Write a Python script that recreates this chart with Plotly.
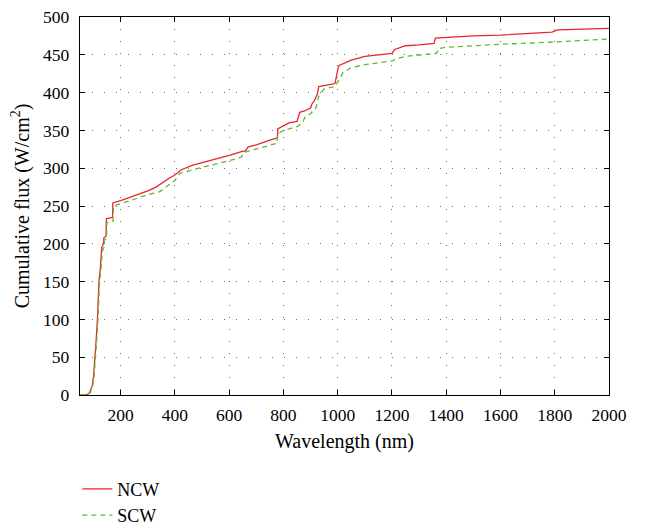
import plotly.graph_objects as go

# NCW cumulative flux (wavelength nm, W/cm^2)
ncw_wl = [50, 75, 85, 95, 100, 105, 110, 115, 120, 125, 130, 136, 138, 146, 147, 170, 171,
          200, 250, 300, 330, 350, 380, 400, 424, 466, 520, 600, 645, 660, 669, 700, 750,
          778, 779, 800, 820, 850, 860, 880, 900, 905, 915, 925, 930, 960, 990, 1000, 1005,
          1050, 1100, 1150, 1200, 1210, 1250, 1300, 1355, 1360, 1400, 1500, 1600, 1700,
          1790, 1810, 2000]
ncw_val = [0, 0, 3, 12, 25, 45, 75, 105, 150, 168, 195, 200, 208, 210, 233, 235, 254,
           257, 263, 270, 275, 280, 287, 291, 298, 304, 309, 317, 322, 323, 328, 331, 337,
           340, 352, 356, 360, 362, 374, 376, 380, 385, 390, 398, 408, 410, 412, 430, 436,
           443, 448, 450, 452, 457, 462, 463, 465, 472, 473, 475, 476, 478,
           480, 483, 485]

# SCW cumulative flux
scw_wl = [50, 78, 88, 97, 102, 107, 112, 117, 122, 127, 132, 138, 140, 148, 149, 172, 173,
          200, 250, 300, 344, 380, 400, 418, 466, 600, 645, 655, 750, 777, 778, 800, 850,
          870, 880, 900, 920, 930, 950, 990, 1010, 1020, 1050, 1100, 1200, 1220, 1250, 1300,
          1365, 1370, 1400, 1600, 1800, 2000]
scw_val = [0, 0, 3, 12, 25, 45, 75, 105, 150, 165, 190, 195, 205, 207, 228, 230, 250,
           253, 259, 265, 269, 278, 284, 293, 298, 310, 314.6, 321, 330, 333, 345, 350, 355,
           360, 368, 372, 380, 395, 405, 408, 420, 427, 433, 437, 442, 445, 448, 450,
           452, 458, 460, 464, 467, 471]

x_ticks = [200, 400, 600, 800, 1000, 1200, 1400, 1600, 1800, 2000]
y_ticks = [0, 50, 100, 150, 200, 250, 300, 350, 400, 450, 500]

fig = go.Figure()
fig.add_trace(go.Scatter(x=ncw_wl, y=ncw_val, mode="lines", name="NCW",
                         line=dict(color="#e8262b", width=1.3)))
fig.add_trace(go.Scatter(x=scw_wl, y=scw_val, mode="lines", name="SCW",
                         line=dict(color="#5cb82e", width=1.3, dash="5px,4px")))

font_family = "Liberation Serif"
axis_common = dict(showline=True, linecolor="black", linewidth=1.3, mirror="ticks",
                   ticks="inside", ticklen=5, tickcolor="black", tickwidth=1.3,
                   showgrid=True, gridcolor="#707070", gridwidth=1, griddash="1px,11px",
                   zeroline=False, automargin=False,
                   tickfont=dict(size=17.5, color="black", family=font_family))

fig.update_layout(
    width=646, height=527,
    paper_bgcolor="white", plot_bgcolor="white",
    margin=dict(l=80, r=37, t=17, b=132, autoexpand=False),
    font=dict(family=font_family, size=18, color="black"),
    xaxis=dict(range=[50, 2000], tickvals=x_ticks, ticklabelstandoff=4,
               title=dict(text="Wavelength (nm)", font=dict(size=20, family=font_family), standoff=9),
               **axis_common),
    yaxis=dict(range=[0, 500], tickvals=y_ticks, ticklabelstandoff=6,
               title=dict(text="Cumulative flux (W/cm<sup>2</sup>)", font=dict(size=20, family=font_family),
                          standoff=8),
               **axis_common),
    showlegend=True,
    legend=dict(x=-0.005, y=-0.20, xanchor="left", yanchor="top", orientation="v",
                font=dict(size=18, family=font_family), bgcolor="rgba(0,0,0,0)",
                tracegroupgap=0),
)

fig.write_html("out.html")
